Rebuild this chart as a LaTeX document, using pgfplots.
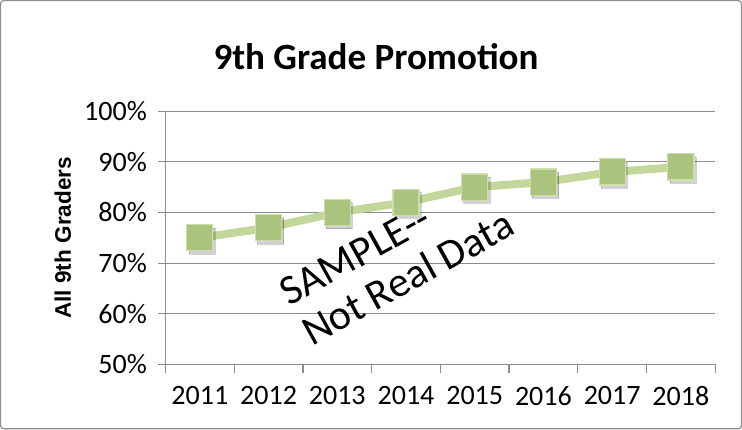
\documentclass[border=0pt]{standalone}
\usepackage{pgfplots}
\pgfplotsset{compat=1.18}
\usepackage{fontspec}
\setmainfont{Carlito}
\newfontfamily\arialfont{Liberation Sans}
\definecolor{gridgray}{RGB}{140,140,140}
\definecolor{lgreen}{RGB}{196,215,155}
\definecolor{mgreen}{RGB}{170,196,125}
\definecolor{edgegreen}{RGB}{205,222,170}
\pgfplotstableread{
x y
0 75
1 77
2 80
3 82
4 85
5 86
6 88
7 89
}\promo
\begin{document}
\begin{tikzpicture}
\begin{axis}[
  name=ax,
  scale only axis,
  width=547bp, height=252bp,
  xmin=-0.5, xmax=7.5,
  ymin=50, ymax=100,
  axis lines*=left,
  axis line style={gridgray, line width=1.2bp},
  xtick={0,...,7},
  xticklabels={2011,2012,2013,2014,2015,2016,2017,2018},
  minor xtick={-0.5,0.5,...,7.5},
  major x tick style={draw=none},
  minor x tick style={gridgray, line width=1.2bp},
  minor tick length=8bp,
  ytick={50,60,...,100},
  yticklabels={50\%,60\%,70\%,80\%,90\%,100\%},
  y tick style={gridgray, line width=1.2bp},
  major tick length=7bp,
  tick align=outside,
  ymajorgrids,
  major grid style={gridgray, line width=1.2bp},
  tick label style={font=\fontsize{28}{32}\selectfont, text=black},
  /pgf/number format/assume math mode=true,
  xticklabel style={yshift=-11bp},
  yticklabel style={xshift=-8bp},
  title={9th Grade Promotion},
  title style={font=\bfseries\fontsize{37}{44}\selectfont, at={(axis description cs:0.5,1)}, anchor=center, xshift=-64bp, yshift=48bp},
  clip=false,
]
% shadow
\addplot[draw=none, mark=square*, mark size=13bp, mark options={fill=black, draw=none, opacity=0.18}, shift={(2bp,-3bp)}] table[x=x,y=y] {\promo};
\addplot[lgreen, line width=8bp, mark=square*, mark size=13bp, mark options={fill=mgreen, draw=edgegreen, line width=1.2bp}] table[x=x,y=y] {\promo};
\node[rotate=29, align=left, font=\fontsize{42}{46}\selectfont, text=black] at (axis cs:2.87,71.0) {SAMPLE-{}-\\Not Real Data};
\end{axis}
\node[rotate=90, font=\arialfont\bfseries\fontsize{22.5}{27}\selectfont] at ([xshift=-102bp]ax.west) {All 9th Graders};
\draw[gridgray, line width=1.2bp, rounded corners=3bp] ([xshift=-164bp,yshift=-64bp]ax.south west) rectangle ([xshift=26bp,yshift=110bp]ax.north east);
\end{tikzpicture}
\end{document}
